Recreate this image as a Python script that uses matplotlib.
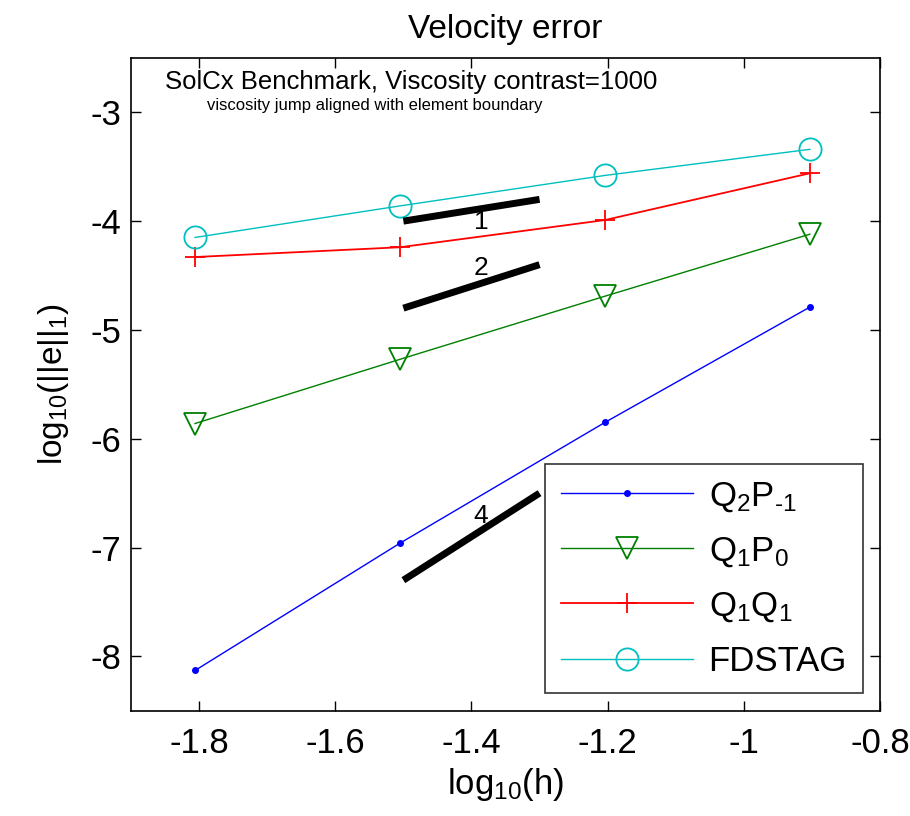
import matplotlib
matplotlib.use("Agg")
import matplotlib.pyplot as plt
import numpy as np

plt.rcParams['font.family'] = ['Liberation Sans', 'DejaVu Sans']
plt.rcParams['mathtext.fontset'] = 'custom'
plt.rcParams['mathtext.rm'] = 'Liberation Sans'
plt.rcParams['mathtext.it'] = 'Liberation Sans'

# data
log_h = [-1.806, -1.505, -1.204, -0.903]
q2p1 = [-8.13, -6.96, -5.85, -4.79]
q1p0 = [-5.86, -5.27, -4.69, -4.12]
q1q1 = [-4.33, -4.24, -3.99, -3.56]
fdstag = [-4.15, -3.86, -3.58, -3.34]

labels = [r'$\mathregular{Q_2P_{\text{-1}}}$', r'$\mathregular{Q_1P_0}$',
          r'$\mathregular{Q_1Q_1}$', 'FDSTAG']

# slope reference lines
slope_x = [-1.5, -1.3]
slope1_y = [-4.0, -3.8]
slope2_y = [-4.8, -4.4]
slope4_y = [-7.3, -6.5]
slope_labels = ['1', '2', '4']
slope_label_pos = [(-1.386, -4.01), (-1.386, -4.43), (-1.386, -6.71)]

xticks = [-1.8, -1.6, -1.4, -1.2, -1.0, -0.8]
xticklabels = ['-1.8', '-1.6', '-1.4', '-1.2', '-1', '-0.8']
yticks = [-8, -7, -6, -5, -4, -3]
yticklabels = ['-8', '-7', '-6', '-5', '-4', '-3']

fig = plt.figure(figsize=(9.10, 8.16), dpi=100)
ax = fig.add_axes([0.144, 0.129, 0.823, 0.800])

ax.plot(log_h, q2p1, color='#0000ff', marker='.', markersize=8, lw=1, label=labels[0])
ax.plot(log_h, q1p0, color='#008000', marker='v', markersize=16, markerfacecolor='none',
        markeredgewidth=1.3, lw=1, label=labels[1])
ax.plot(log_h, q1q1, color='#ff0000', marker='+', markersize=15, markeredgewidth=1.3,
        lw=1.3, label=labels[2])
ax.plot(log_h, fdstag, color='#00bfbf', marker='o', markersize=16, markerfacecolor='none',
        markeredgewidth=1.3, lw=1, label=labels[3])

for ys in (slope1_y, slope2_y, slope4_y):
    ax.plot(slope_x, ys, color='black', lw=5, solid_capstyle='butt')
for t, (px, py) in zip(slope_labels, slope_label_pos):
    ax.text(px, py, t, fontsize=19, ha='center', va='center')

ax.text(-1.850, -2.785, 'SolCx Benchmark, Viscosity contrast=1000', fontsize=18.5, va='baseline')
ax.text(-1.789, -2.978, 'viscosity jump aligned with element boundary', fontsize=12, va='baseline')

ax.set_xlim(-1.9, -0.8)
ax.set_ylim(-8.5, -2.5)
ax.set_xticks(xticks)
ax.set_xticklabels(xticklabels)
ax.set_yticks(yticks)
ax.set_yticklabels(yticklabels)
ax.tick_params(direction='in', top=True, right=True, labelsize=25, length=7, width=1)
ax.tick_params(axis='x', pad=12)
ax.tick_params(axis='y', pad=7)
for s in ax.spines.values():
    s.set_linewidth(1.2)

ax.set_xlabel(r'$\mathregular{log_{10}(h)}$', fontsize=25, labelpad=4)
ax.set_ylabel(r'$\mathregular{log_{10}(||e||_1)}$', fontsize=24, labelpad=14)
ax.set_title('Velocity error', fontsize=24, pad=14)

leg = ax.legend(loc='lower right', fontsize=25, handlelength=3.8, frameon=True,
                fancybox=False, edgecolor='black', borderaxespad=0.5,
                labelspacing=0.6, borderpad=0.45, handletextpad=0.45)
leg.get_frame().set_linewidth(1.2)

fig.savefig('out.png', dpi=100)
